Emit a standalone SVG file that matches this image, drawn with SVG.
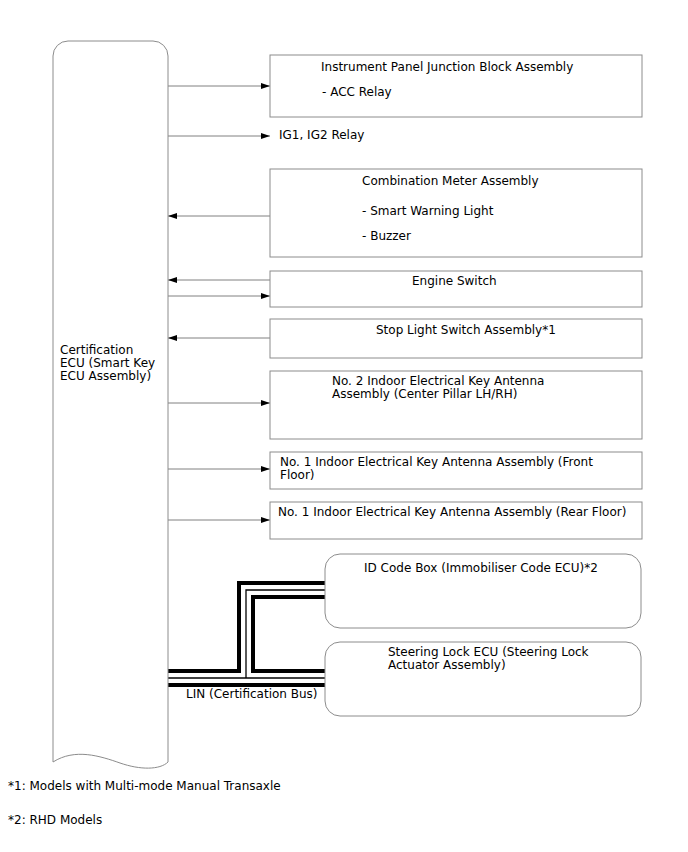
<svg xmlns="http://www.w3.org/2000/svg" width="688" height="852" viewBox="0 0 688 852">
<style>
text{font-family:"DejaVu Sans","Liberation Sans",sans-serif;font-size:12px;fill:#000}
.box{fill:#fff;stroke:#8c8c8c;stroke-width:1}
.ln{stroke:#808080;stroke-width:1;fill:none}
.busA{stroke:#000;stroke-width:18;fill:none;stroke-linejoin:miter;stroke-linecap:butt}
.busB{stroke:#fff;stroke-width:10;fill:none;stroke-linejoin:miter;stroke-linecap:butt}
.busC{stroke:#000;stroke-width:1.3;fill:none;stroke-linejoin:miter;stroke-linecap:butt}
</style>
<defs>
<marker id="ah" markerUnits="userSpaceOnUse" markerWidth="9" markerHeight="6" refX="9" refY="3" orient="auto">
<path d="M0,0 L9,3 L0,6 z" fill="#000"/>
</marker>
</defs>
<rect width="688" height="852" fill="#fff"/>
<g id="connectors">
<line class="ln" x1="168" y1="86" x2="270" y2="86" marker-end="url(#ah)"/>
<line class="ln" x1="168" y1="136" x2="270" y2="136" marker-end="url(#ah)"/>
<line class="ln" x1="270" y1="216" x2="168" y2="216" marker-end="url(#ah)"/>
<line class="ln" x1="270" y1="280" x2="168" y2="280" marker-end="url(#ah)"/>
<line class="ln" x1="168" y1="296" x2="270" y2="296" marker-end="url(#ah)"/>
<line class="ln" x1="270" y1="338" x2="168" y2="338" marker-end="url(#ah)"/>
<line class="ln" x1="168" y1="403" x2="270" y2="403" marker-end="url(#ah)"/>
<line class="ln" x1="168" y1="469" x2="270" y2="469" marker-end="url(#ah)"/>
<line class="ln" x1="168" y1="520" x2="270" y2="520" marker-end="url(#ah)"/>
<g id="lin-bus">
<path class="busA" d="M168,678 H326"/>
<path class="busA" d="M246,678 V590 H326"/>
<path class="busB" d="M168,678 H326"/>
<path class="busB" d="M246,678 V590 H326"/>
<path class="busC" d="M168,678 H326"/>
<path class="busC" d="M246,678 V590 H326"/>
</g>
<text x="186" y="698">LIN (Certification Bus)</text>
<text x="279" y="139">IG1, IG2 Relay</text>
</g>
<g id="ecu">
<path class="box" d="M53,56 A15,15 0 0 1 68,41 H153 A15,15 0 0 1 168,56 V762 C160,770 140,770 120,763 C100,756 75,748 53,762 Z"/>
<text x="60" y="354">Certification</text>
<text x="60" y="367">ECU (Smart Key</text>
<text x="60" y="380">ECU Assembly)</text>
</g>
<g id="ipjb">
<rect class="box" x="270" y="55" width="372" height="62"/>
<text x="321" y="71">Instrument Panel Junction Block Assembly</text>
<text x="322" y="96">- ACC Relay</text>
</g>
<g id="meter">
<rect class="box" x="270" y="169" width="372" height="88"/>
<text x="362" y="185">Combination Meter Assembly</text>
<text x="362" y="215">- Smart Warning Light</text>
<text x="362" y="240">- Buzzer</text>
</g>
<g id="engine-switch">
<rect class="box" x="270" y="271" width="372" height="36"/>
<text x="412" y="285">Engine Switch</text>
</g>
<g id="stop-light">
<rect class="box" x="270" y="319" width="372" height="39"/>
<text x="376" y="334">Stop Light Switch Assembly*1</text>
</g>
<g id="no2-antenna">
<rect class="box" x="270" y="371" width="372" height="68"/>
<text x="332" y="385">No. 2 Indoor Electrical Key Antenna</text>
<text x="332" y="398">Assembly (Center Pillar LH/RH)</text>
</g>
<g id="no1-front">
<rect class="box" x="270" y="452" width="372" height="37"/>
<text x="280" y="466">No. 1 Indoor Electrical Key Antenna Assembly (Front</text>
<text x="280" y="479">Floor)</text>
</g>
<g id="no1-rear">
<rect class="box" x="270" y="502" width="372" height="37"/>
<text x="278" y="516">No. 1 Indoor Electrical Key Antenna Assembly (Rear Floor)</text>
</g>
<g id="id-code-box">
<rect class="box" x="325" y="554" width="316" height="74" rx="15" ry="15"/>
<text x="364" y="572">ID Code Box (Immobiliser Code ECU)*2</text>
</g>
<g id="steering-lock">
<rect class="box" x="325" y="642" width="316" height="74" rx="15" ry="15"/>
<text x="388" y="656">Steering Lock ECU (Steering Lock</text>
<text x="388" y="669">Actuator Assembly)</text>
</g>
<g id="notes">
<text x="8" y="790">*1: Models with Multi-mode Manual Transaxle</text>
<text x="8" y="824">*2: RHD Models</text>
</g>
</svg>
